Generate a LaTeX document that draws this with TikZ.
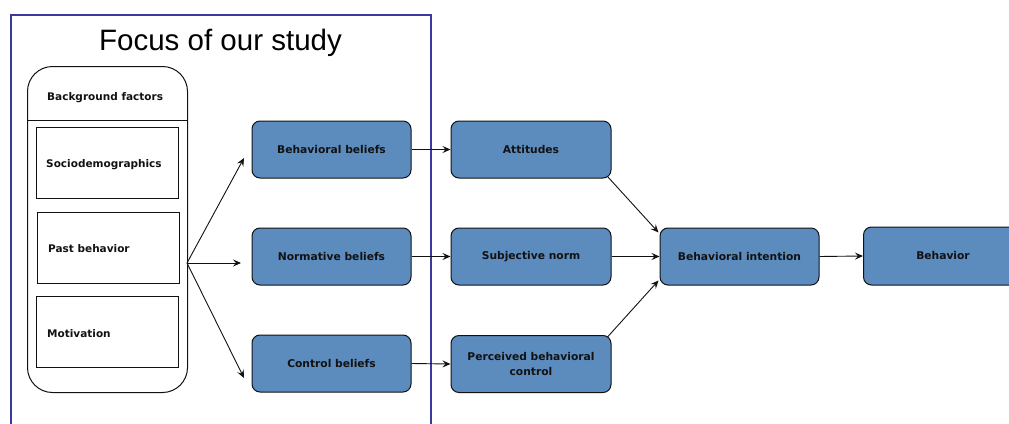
\documentclass[tikz,border=0pt]{standalone}
\usepackage{fontspec}
\setmainfont{DejaVu Sans}
\newfontfamily\titlefont{Liberation Sans}
\usetikzlibrary{arrows.meta}
\definecolor{boxblue}{RGB}{92,139,190}
\definecolor{frameblue}{RGB}{58,58,156}
\definecolor{ink}{RGB}{18,18,18}
\begin{document}
\begin{tikzpicture}[x=1pt,y=-1pt,
  bluebox/.style={draw=ink, fill=boxblue, rounded corners=8pt, line width=1pt,
    minimum width=159pt, minimum height=57pt, inner sep=0pt, align=center,
    text=ink, font=\fontsize{10.7}{14.5}\selectfont\bfseries},
  whitebox/.style={draw=ink, line width=0.9pt, fill=white, minimum width=142pt,
    minimum height=71pt, inner sep=0pt},
  lbl/.style={font=\fontsize{10.5}{12.5}\selectfont\bfseries, text=ink, anchor=base west, inner sep=0pt},
  conn/.style={draw=ink, line width=0.9pt, -{Stealth[length=8pt,width=7pt,inset=3pt]}}]
\useasboundingbox (0,0) rectangle (1009,423);
\clip (0,0) rectangle (1009,423);
\fill[white] (0,0) rectangle (1009,423);

% focus frame
\node[draw=frameblue, line width=2pt, minimum width=420pt, minimum height=440pt,
  anchor=north west, inner sep=0pt] (focus) at (10,14) {};
\node[font=\titlefont\fontsize{29.5}{32}\selectfont, anchor=base, inner sep=0pt] (title) at (220.5,50) {Focus of our study};

% background factors
\node[draw=ink, line width=1pt, rounded corners=25pt, minimum width=160pt,
  minimum height=326pt, anchor=north west, inner sep=0pt] (bg) at (27,66) {};
\draw[ink, line width=1pt] (bg.west |- 0,120) -- (bg.east |- 0,120);
\node[lbl] (bgt) at (47,100) {Background factors};

\node[whitebox] (soc) at (107,163) {};
\node[lbl] (soct) at (46,167) {Sociodemographics};
\node[whitebox] (past) at (108,247.5) {};
\node[lbl] (pastt) at (48,252) {Past behavior};
\node[whitebox] (mot) at (107,332) {};
\node[lbl] (mott) at (47,337) {Motivation};

% belief boxes
\node[bluebox] (bb) at (331.5,149.5) {Behavioral beliefs};
\node[bluebox] (nb) at (331.5,256.5) {Normative beliefs};
\node[bluebox] (cb) at (331.5,363.5) {Control beliefs};

\node[bluebox, minimum width=160pt] (att) at (531,149.5) {Attitudes};
\node[bluebox, minimum width=160pt] (sn) at (531,256.5) {Subjective norm};
\node[bluebox, minimum width=160pt] (pbc) at (531,364) {Perceived behavioral\\control};

\node[bluebox] (bi) at (739.5,256.5) {Behavioral intention};
\node[bluebox, minimum height=58pt] (beh) at (943,256) {Behavior};

% fan from background factors
\coordinate (fan) at (187,263);
\coordinate (t1) at (244,158);
\coordinate (t2) at (241,263);
\coordinate (t3) at (244,378);
\draw[conn] (fan) -- (t1);
\draw[conn] (fan) -- (t2);
\draw[conn] (fan) -- (t3);

% beliefs to constructs
\draw[conn] (bb.east) -- (att.west);
\draw[conn] (nb.east) -- (sn.west);
\draw[conn] (cb.east) -- (pbc.west);

% constructs to intention
\draw[conn] ([shift={(-4,-2)}]att.south east) -- ([shift={(-1,5)}]bi.north west);
\draw[conn] (sn.east) -- (bi.west);
\draw[conn] ([shift={(-4,2)}]pbc.north east) -- ([shift={(-1,-5)}]bi.south west);

\draw[conn] (bi.east) -- (beh.west);
\end{tikzpicture}
\end{document}
